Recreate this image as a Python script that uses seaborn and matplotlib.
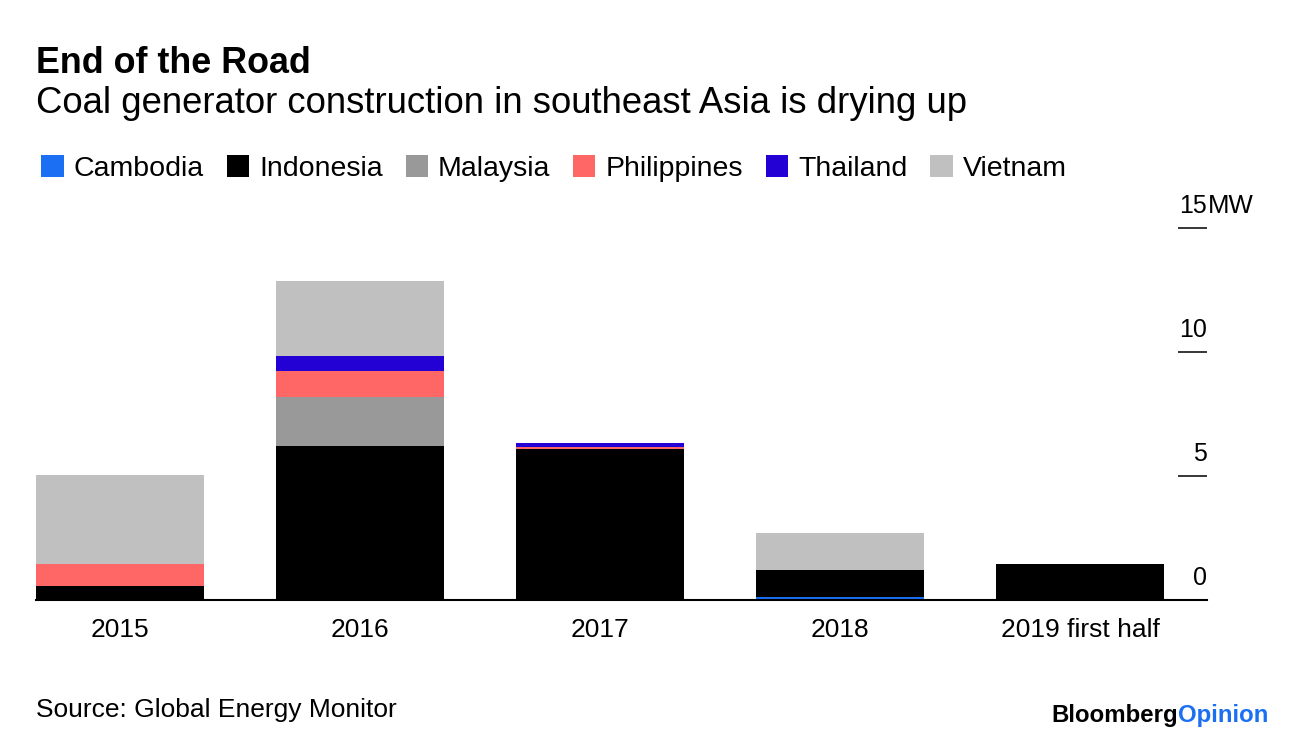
import numpy as np
import pandas as pd
import matplotlib.pyplot as plt
import matplotlib.transforms as mtransforms
from matplotlib.patches import Patch
import seaborn as sns

# data (MW)
years = ['2015', '2016', '2017', '2018', '2019 first half']
countries = ['Cambodia', 'Indonesia', 'Malaysia', 'Philippines', 'Thailand', 'Vietnam']
cambodia = [0.0, 0.0, 0.0, 0.13, 0.0]
indonesia = [0.58, 6.22, 6.08, 1.08, 1.45]
malaysia = [0.0, 1.97, 0.0, 0.0, 0.0]
philippines = [0.87, 1.03, 0.08, 0.0, 0.0]
thailand = [0.0, 0.62, 0.16, 0.0, 0.0]
vietnam = [3.59, 3.04, 0.0, 1.50, 0.0]
colors = ['#1a6ff2', '#000000', '#999999', '#ff6666', '#2300d4', '#c0c0c0']
ytick_vals = [5, 10, 15]

df = pd.DataFrame({'year': years, 'Cambodia': cambodia, 'Indonesia': indonesia,
                   'Malaysia': malaysia, 'Philippines': philippines,
                   'Thailand': thailand, 'Vietnam': vietnam})
cum = df[countries].cumsum(axis=1)

sns.set_style('white')
plt.rcParams['font.family'] = ['Liberation Sans', 'DejaVu Sans']
plt.rcParams['text.color'] = 'black'
plt.rcParams['xtick.color'] = 'black'
plt.rcParams['xtick.labelcolor'] = 'black'

fig = plt.figure(figsize=(12.96, 7.4), dpi=100)
ax = fig.add_axes([36 / 1296, 140 / 740, (1207 - 36) / 1296, 372 / 740])

# stacked bars: draw cumulative totals from the top series down
for c, col in reversed(list(zip(countries, colors))):
    sns.barplot(x=df['year'], y=cum[c], color=col, width=0.7, linewidth=0,
                saturation=1, ax=ax, order=years)

ax.set_xlim(-0.35, 4.529)
ax.set_ylim(0, 15)
ax.set_xlabel('')
ax.set_ylabel('')
for s in ['top', 'left', 'right']:
    ax.spines[s].set_visible(False)
ax.spines['bottom'].set_color('black')
ax.spines['bottom'].set_linewidth(1.5)
ax.tick_params(axis='x', length=0, pad=13, labelsize=19, labelcolor='black')

ax.yaxis.tick_right()
ax.set_yticks(ytick_vals)
ax.tick_params(axis='y', direction='in', length=21, width=1.1, color='black',
               labelright=False, labelleft=False)

trans = mtransforms.blended_transform_factory(ax.transAxes, ax.transData)
for v in [0] + ytick_vals:
    ax.annotate(str(v), xy=(1.0, v), xycoords=trans, xytext=(0, 11),
                textcoords='offset points', ha='right', va='baseline', fontsize=18)
ax.annotate('MW', xy=(1.0, 15), xycoords=trans, xytext=(0.5, 11),
            textcoords='offset points', ha='left', va='baseline', fontsize=18.5,
            annotation_clip=False)

fig.text(36 / 1296, 1 - 73 / 740, 'End of the Road', fontsize=25.8, fontweight='bold',
         va='baseline', ha='left')
fig.text(36 / 1296, 1 - 113 / 740, 'Coal generator construction in southeast Asia is drying up',
         fontsize=26.3, va='baseline', ha='left')

handles = [Patch(facecolor=c, edgecolor='none', label=n) for n, c in zip(countries, colors)]
fig.legend(handles=handles, loc='upper left', bbox_to_anchor=(30 / 1296, 1 - 144 / 740),
           ncol=6, frameon=False, fontsize=20.5, handlelength=0.78, handleheight=0.78,
           handletextpad=0.36, columnspacing=0.8, borderaxespad=0)

fig.text(36 / 1296, 1 - 717 / 740, 'Source: Global Energy Monitor', fontsize=19,
         va='baseline', ha='left')
t1 = fig.text(1051 / 1296, 1 - 722 / 740, 'Bloomberg', fontsize=17.3, fontweight='bold',
              va='baseline', ha='left', color='black')
fig.canvas.draw()
bb = t1.get_window_extent()
fig.text(bb.x1 / 1296, 1 - 722 / 740, 'Opinion', fontsize=17.3, fontweight='bold',
         va='baseline', ha='left', color='#1a6ff2')

fig.savefig('out.png', dpi=100)
